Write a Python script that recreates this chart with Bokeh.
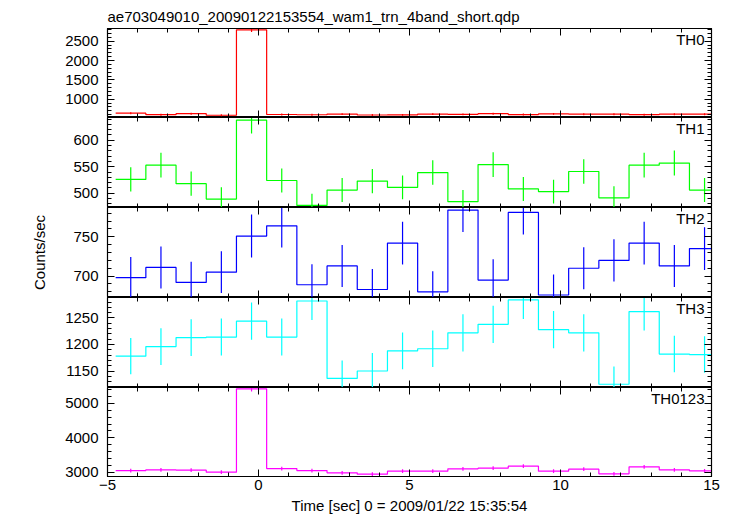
from bokeh.plotting import figure
from bokeh.layouts import column
from bokeh.models import (Range1d, LinearAxis, SingleIntervalTicker, Label, Title,
                          CustomLabelingPolicy)
from bokeh.embed import file_html
from bokeh.resources import INLINE

# ---- data ----
time_centers = [-4.23, -3.23, -2.23, -1.23, -0.23, 0.77, 1.77, 2.77, 3.77, 4.77,
                5.77, 6.77, 7.77, 8.77, 9.77, 10.77, 11.77, 12.77, 13.77, 14.77]
bin_half = 0.5

th0 = [638, 600, 625, 585, 2795, 605, 598, 615, 592, 595, 615, 608, 625, 603, 620, 612, 612, 600, 612, 612]
th0_err = [25.3, 24.5, 25.0, 24.2, 52.9, 24.6, 24.5, 24.8, 24.3, 24.4, 24.8, 24.7, 25.0, 24.6, 24.9, 24.7, 24.7, 24.5, 24.7, 24.7]

th1 = [526, 553, 518, 489, 638, 524, 477, 506, 523, 511, 539, 484, 554, 508, 503, 541, 491, 553, 557, 506]
th1_err = [22.9, 23.5, 22.8, 22.1, 25.3, 22.9, 21.8, 22.5, 22.9, 22.6, 23.2, 22.0, 23.5, 22.5, 22.4, 23.3, 22.2, 23.5, 23.6, 22.5]

th2 = [698, 711, 692, 705, 751, 764, 689, 713, 683, 742, 680, 784, 695, 781, 676, 710, 720, 742, 713, 735]
th2_err = [26.4, 26.7, 26.3, 26.6, 27.4, 27.6, 26.2, 26.7, 26.1, 27.2, 26.1, 28.0, 26.4, 27.9, 26.0, 26.6, 26.8, 27.2, 26.7, 27.1]

th3 = [1178, 1196, 1213, 1214, 1244, 1214, 1282, 1136, 1150, 1188, 1192, 1222, 1238, 1284, 1228, 1222, 1125, 1262, 1182, 1181]
th3_err = [34.3, 34.6, 34.8, 34.8, 35.3, 34.8, 35.8, 33.7, 33.9, 34.5, 34.5, 35.0, 35.2, 35.8, 35.0, 35.0, 33.5, 35.5, 34.4, 34.4]

th0123 = [3046, 3067, 3058, 3000, 5424, 3104, 3046, 2980, 2942, 3029, 3029, 3096, 3116, 3174, 3029, 3087, 2951, 3154, 3067, 3038]
th0123_err = [55.2, 55.4, 55.3, 54.8, 73.6, 55.7, 55.2, 54.6, 54.2, 55.0, 55.0, 55.6, 55.8, 56.3, 55.0, 55.6, 54.3, 56.2, 55.4, 55.1]

band_names = ["TH0", "TH1", "TH2", "TH3", "TH0123"]
band_colors = ["#ff0000", "#00ff00", "#0000ff", "#00ffff", "#ff00ff"]
band_values = [th0, th1, th2, th3, th0123]
band_errors = [th0_err, th1_err, th2_err, th3_err, th0123_err]
y_ranges = [(527, 2830), (473, 643), (672.8, 787.3), (1118.9, 1288.6), (2873, 5464)]
y_intervals = [500, 50, 50, 50, 1000]

title_text = "ae703049010_20090122153554_wam1_trn_4band_short.qdp"
x_label = "Time [sec] 0 = 2009/01/22 15:35:54"
y_label = "Counts/sec"

FONT = "Liberation Sans"
W = 728
heights = [117, 90, 90, 90, 129]

NO_LABELS = "for (const i of Array.from(indices)) { indices.unset(i) }\nreturn indices"


def style_axis(ax, interval, show_labels):
    ax.ticker = SingleIntervalTicker(interval=interval, num_minor_ticks=5)
    ax.major_tick_in = 7
    ax.major_tick_out = 0
    ax.minor_tick_in = 4
    ax.minor_tick_out = 0
    ax.axis_line_color = "black"
    ax.major_tick_line_color = "black"
    ax.minor_tick_line_color = "black"
    if show_labels:
        ax.major_label_text_font = FONT
        ax.major_label_text_font_size = "15px"
        ax.major_label_text_color = "black"
    else:
        ax.major_label_text_font_size = "0px"
        ax.major_label_standoff = 0
        ax.major_label_policy = CustomLabelingPolicy(code=NO_LABELS)


figs = []
for i in range(5):
    first = i == 0
    last = i == 4
    p = figure(width=W, height=heights[i],
               x_range=Range1d(-5, 15), y_range=Range1d(*y_ranges[i]),
               output_backend="svg", toolbar_location=None,
               x_axis_location=None, y_axis_location=None,
               min_border_left=107, min_border_right=17,
               min_border_top=28 if first else 0,
               min_border_bottom=39 if last else 0)
    p.grid.visible = False
    p.outline_line_color = "black"
    p.outline_line_width = 1.2
    p.background_fill_color = "white"
    p.border_fill_color = "white"

    left = LinearAxis()
    style_axis(left, y_intervals[i], True)
    left.major_label_standoff = 9
    if i == 2:
        left.axis_label = y_label
        left.axis_label_text_font = FONT
        left.axis_label_text_font_size = "15px"
        left.axis_label_text_font_style = "normal"
        left.axis_label_text_color = "black"
        left.axis_label_standoff = 22
    p.add_layout(left, "left")

    right = LinearAxis()
    style_axis(right, y_intervals[i], False)
    p.add_layout(right, "right")

    top = LinearAxis()
    style_axis(top, 5, False)
    p.add_layout(top, "above")

    bottom = LinearAxis()
    style_axis(bottom, 5, last)
    if last:
        bottom.major_label_standoff = 3
        bottom.major_label_overrides = {-5: "\u22125"}
        bottom.axis_label = x_label
        bottom.axis_label_text_font = FONT
        bottom.axis_label_text_font_size = "15px"
        bottom.axis_label_text_font_style = "normal"
        bottom.axis_label_text_color = "black"
        bottom.axis_label_standoff = 4
    p.add_layout(bottom, "below")

    vals = band_values[i]
    errs = band_errors[i]
    col = band_colors[i]
    edges = [c - bin_half for c in time_centers] + [time_centers[-1] + bin_half]
    step_y = list(vals) + [vals[-1]]
    p.step(edges, step_y, mode="after", line_color=col, line_width=1.2)
    p.segment(x0=time_centers, y0=[v - e for v, e in zip(vals, errs)],
              x1=time_centers, y1=[v + e for v, e in zip(vals, errs)],
              line_color=col, line_width=1.2)

    p.add_layout(Label(x=15, y=y_ranges[i][1], x_offset=-7, y_offset=-2,
                       text=band_names[i], text_align="right", text_baseline="top",
                       text_font=FONT, text_font_size="15px", text_color="black"))

    if first:
        p.title = Title(text=title_text, align="left", text_font=FONT,
                        text_font_size="15px", text_font_style="normal",
                        text_color="black", standoff=7, offset=0)
    figs.append(p)

layout = column(*figs, spacing=0)
open("out.html", "w").write(file_html(layout, INLINE))
